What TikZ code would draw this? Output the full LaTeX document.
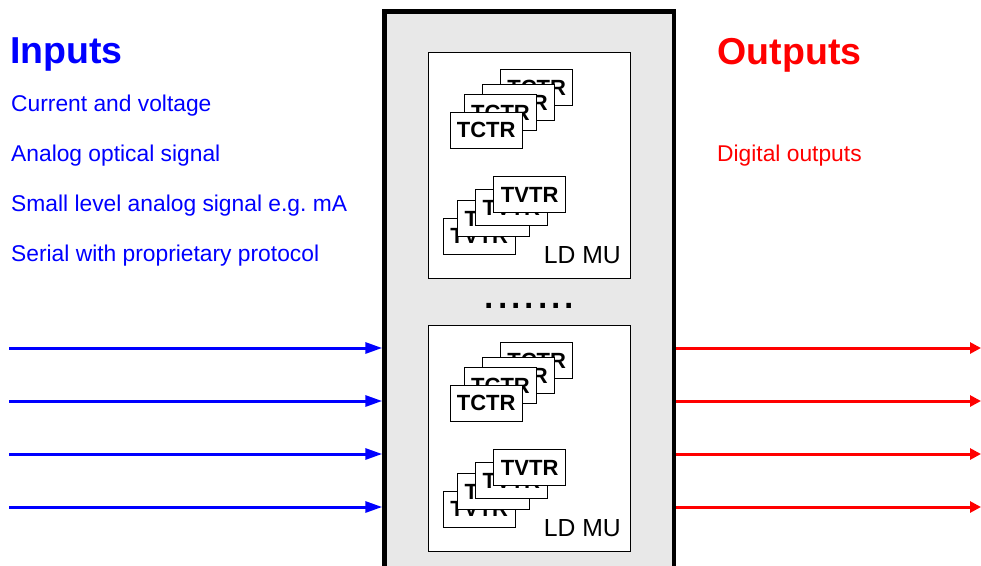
\documentclass[tikz,border=0pt]{standalone}
\usepackage{fontspec}
\setmainfont{Liberation Sans}
\usetikzlibrary{arrows.meta}
\definecolor{boxgray}{RGB}{232,232,232}
\frenchspacing
\begin{document}
\begin{tikzpicture}[x=1pt,y=-1pt,
  inlabel/.style={anchor=base west, inner sep=0, font=\fontsize{22.8}{27}\selectfont},
  titlelabel/.style={anchor=base west, inner sep=0, font=\bfseries\fontsize{37.5}{45}\selectfont},
  mainbox/.style={draw, line width=4.5pt, fill=boxgray, minimum width=289.5, minimum height=620, inner sep=0},
  mubox/.style={draw, fill=white, line width=0.9pt, minimum width=202, minimum height=226, inner sep=0},
  card/.style={draw, fill=white, line width=0.9pt, minimum width=72, minimum height=36, inner sep=0, font=\bfseries\fontsize{22}{26}\selectfont},
  mulabel/.style={anchor=base east, inner sep=0, font=\fontsize{24.7}{29}\selectfont},
  inarrow/.style={draw=blue, line width=3pt, -{Triangle[length=17pt,width=11pt]}, fill=blue},
  outarrow/.style={draw=red, line width=3pt, -{Triangle[length=11pt,width=11pt]}, fill=red}
]
\clip (0,0) rectangle (981,565);
\fill[white] (0,0) rectangle (981,565);

% titles and labels
\node[titlelabel, text=blue] (tin) at (10,63) {Inputs};
\node[inlabel, text=blue] (l1) at (11,111) {Current and voltage};
\node[inlabel, text=blue] (l2) at (11,161) {Analog optical signal};
\node[inlabel, text=blue] (l3) at (11,211) {Small level analog signal e.g.\ mA};
\node[inlabel, text=blue] (l4) at (11,261) {Serial with proprietary protocol};
\node[titlelabel, text=red] (tout) at (717.5,64) {Outputs};
\node[inlabel, text=red] (o1) at (717,161) {Digital outputs};

% main box
\node[mainbox] (main) at (529.25,321.5) {};

% LD MU groups
\foreach \k/\dy in {1/0, 2/273}{
  \node[mubox] (ld\k) at (529.75,165+\dy) {};
  \node[mulabel] (ldlab\k) at (621,263+\dy) {LD MU};
  \node[card] (tc\k d) at (536.7,87.5+\dy) {TCTR};
  \node[card] (tc\k c) at (518.5,102.5+\dy) {TCTR};
  \node[card] (tc\k b) at (500.5,112.5+\dy) {TCTR};
  \node[card] (tc\k a) at (486.2,130.3+\dy) {TCTR};
  \node[card] (tv\k d) at (479.2,236.2+\dy) {TVTR};
  \node[card] (tv\k c) at (493.3,218.7+\dy) {TVTR};
  \node[card] (tv\k b) at (511.3,207.8+\dy) {TVTR};
  \node[card] (tv\k a) at (529.7,194.7+\dy) {TVTR};
}

\node[anchor=base, inner sep=0, font=\fontsize{48}{50}\selectfont] (dots) at (529.5,308) {.......};

% arrows
\foreach \i/\y in {1/348, 2/401, 3/454, 4/507}{
  \coordinate (in\i) at (9,\y);
  \coordinate (out\i) at (981,\y);
  \draw[inarrow] (in\i) -- (in\i -| main.west);
  \draw[outarrow] (out\i -| main.east) -- (out\i);
}
\end{tikzpicture}
\end{document}
